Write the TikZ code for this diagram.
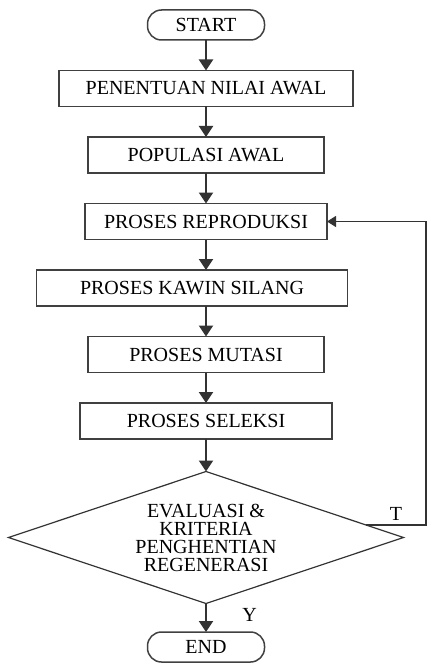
\documentclass[tikz,border=0pt]{standalone}
\usepackage{fontspec}
\setmainfont{Liberation Serif}
\usetikzlibrary{arrows.meta,chains,shapes.geometric,calc}

\begin{document}
\begin{tikzpicture}[x=1pt, y=1pt,
node distance=30.5pt,
 start chain = F going below,
 font=\fontsize{20}{18}\selectfont,
    term/.style = {rectangle, rounded corners=14pt, draw=black!75, line width=1.5pt,% start / end
                minimum width=117pt, minimum height=30pt,
                inner sep=0pt, outer sep=0pt, on chain},
    proc/.style = {rectangle, draw=black!75, line width=1.6pt,% process boxes
                minimum height=36pt,
                inner sep=0pt, outer sep=0pt, on chain},
     dec/.style = {diamond, draw=black!80, line width=1.2pt, aspect=3,% decision
                minimum width=395pt, minimum height=132pt, align=center,
                inner sep=0pt, outer sep=0pt, on chain},
     arr/.style = {draw=black!80, line width=2pt,
                -{Triangle[width=14pt,length=11pt]}},
    back/.style = {draw=black!80, line width=1.2pt,
                -{Triangle[width=11pt,length=9pt]}},
                        ]
\useasboundingbox (0,0) rectangle (427,-663);
\node[term] (st) at (206,-25) {START};
\node[proc, minimum width=294pt] (pen) {PENENTUAN NILAI AWAL};
\node[proc, minimum width=236pt] (pop) {POPULASI AWAL};
\node[proc, minimum width=242pt] (rep) {PROSES REPRODUKSI};
\node[proc, minimum width=311pt, xshift=-14pt] (kaw) {PROSES KAWIN SILANG};
\node[proc, minimum width=236pt, xshift=14pt] (mut) {PROSES MUTASI};
\node[proc, minimum width=252pt] (sel) {PROSES SELEKSI};
\node[dec, yshift=-2pt] (ev) {EVALUASI \&\\KRITERIA\\PENGHENTIAN\\REGENERASI};
\node[term, yshift=2pt] (end) {END};
% arrows down the middle
\foreach \a/\b in {st/pen, pen/pop, pop/rep, rep/kaw, kaw/mut, mut/sel, sel/ev}
    \draw[arr] (st.center |- \a.south) -- (st.center |- \b.north);
\draw[arr] (ev.south) -- node[right, xshift=32pt, yshift=3pt] (y) {Y} (end.north);
% back to reproduksi
\coordinate (tl) at ($(ev.east)!0.19!(ev.north)$);
\coordinate (rt) at (426,0);
\draw[back] (tl) -- node[above, yshift=1pt] (t) {T} (tl -| rt) -- (rt |- rep.east) -- (rep.east);
\end{tikzpicture}
\end{document}
